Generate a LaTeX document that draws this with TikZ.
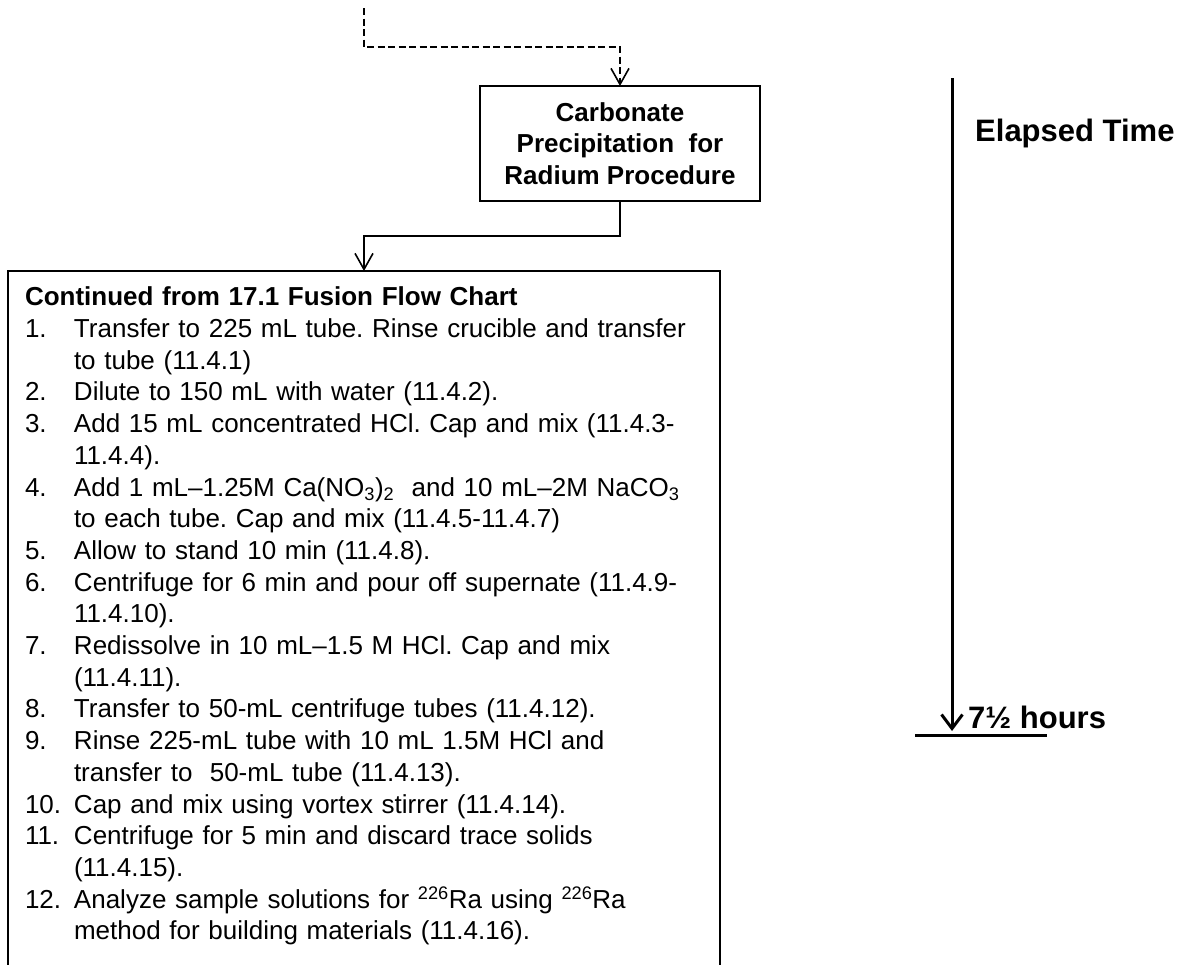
\documentclass[tikz,border=0pt]{standalone}
\usepackage{fontspec}
\setmainfont{Liberation Sans}
\usetikzlibrary{arrows.meta, positioning, calc}
\newcommand{\stepnum}[1]{\makebox[49pt][l]{#1}}
\newcommand{\stepcont}{\hspace*{49pt}}
\tikzset{
  procbox/.style={
    draw, line width=2pt, outer sep=0pt, align=center, inner sep=0pt,
    minimum width=280pt, minimum height=115pt,
    font=\fontsize{26}{31.5}\selectfont\bfseries
  },
  listbox/.style={
    draw, line width=2pt, outer sep=0pt, anchor=north west, align=left,
    text width=678pt, inner xsep=17pt, inner ysep=16pt, text depth=700pt,
    font=\fontsize{26}{31.7}\selectfont\frenchspacing
  },
  flowarr/.style={line width=1.6pt, -{Straight Barb[length=16pt,width=18pt]}},
  flowdash/.style={flowarr, dash pattern=on 7pt off 3.5pt},
  timearr/.style={line width=3pt, -{Straight Barb[length=14pt,width=21pt]}},
  timelab/.style={font=\fontsize{31}{35}\selectfont\bfseries, inner sep=0pt, anchor=west}
}
\begin{document}
\begin{tikzpicture}[x=1pt,y=-1pt]
  \clip (0,0) rectangle (1186,964);
  \node[procbox] (precip) at (620,143.5) {Carbonate\\Precipitation\ \ for\\Radium Procedure};
  \node[listbox] (steps) at (8,271) {\textbf{Continued from 17.1 Fusion Flow Chart}\\
    \stepnum{1.}Transfer to 225 mL tube. Rinse crucible and transfer\\
    \stepcont to tube (11.4.1)\\
    \stepnum{2.}Dilute to 150 mL with water (11.4.2).\\
    \stepnum{3.}Add 15 mL concentrated HCl. Cap and mix (11.4.3-\\
    \stepcont 11.4.4).\\
    \stepnum{4.}Add 1 mL--1.25M Ca(NO\textsubscript{3})\textsubscript{2}\ \ and 10 mL--2M NaCO\textsubscript{3}\\
    \stepcont to each tube. Cap and mix (11.4.5-11.4.7)\\
    \stepnum{5.}Allow to stand 10 min (11.4.8).\\
    \stepnum{6.}Centrifuge for 6 min and pour off supernate (11.4.9-\\
    \stepcont 11.4.10).\\
    \stepnum{7.}Redissolve in 10 mL--1.5 M HCl. Cap and mix\\
    \stepcont (11.4.11).\\
    \stepnum{8.}Transfer to 50-mL centrifuge tubes (11.4.12).\\
    \stepnum{9.}Rinse 225-mL tube with 10 mL 1.5M HCl and\\
    \stepcont transfer to\ \ 50-mL tube (11.4.13).\\
    \stepnum{10.}Cap and mix using vortex stirrer (11.4.14).\\
    \stepnum{11.}Centrifuge for 5 min and discard trace solids\\
    \stepcont (11.4.15).\\
    \stepnum{12.}Analyze sample solutions for \textsuperscript{226}Ra using \textsuperscript{226}Ra\\
    \stepcont method for building materials (11.4.16).};
  \coordinate (fusion) at (364,8);
  \draw[flowdash] (fusion) -- ++(0,39) -| (precip.north);
  \draw[flowarr] (precip.south) -- ++(0,35) -| (steps.north -| fusion);
  \coordinate (tstart) at (952,78);
  \coordinate (tend) at (952,731);
  \coordinate (barleft) at (915,735);
  \coordinate (barright) at (1047,735);
  \draw[timearr] (tstart) -- (tend);
  \draw[line width=3pt] (barleft) -- (barright);
  \node[timelab] (elapsed) at (975,133) {Elapsed Time};
  \node[timelab] (hours) at (968,717) {7½ hours};
\end{tikzpicture}
\end{document}
